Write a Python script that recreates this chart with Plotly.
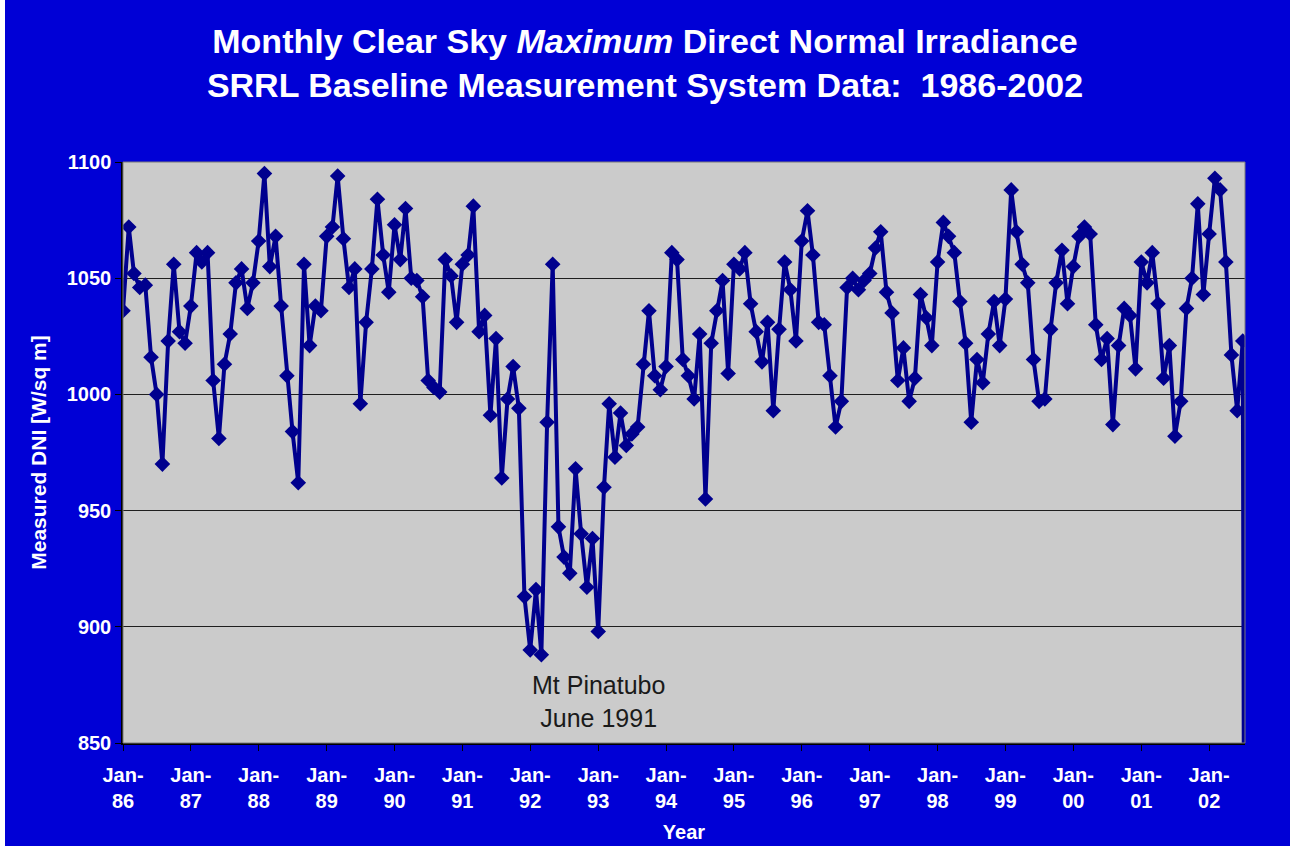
import pandas as pd
import plotly.graph_objects as go

# Monthly clear-sky maximum DNI (W/sq m), Jan 1986 .. Aug 2002 (last month recorded as 0)
dni_1986 = [1036, 1072, 1052, 1046, 1047, 1016, 1000, 970, 1023, 1056, 1027, 1022]
dni_1987 = [1038, 1061, 1057, 1061, 1006, 981, 1013, 1026, 1048, 1054, 1037, 1048]
dni_1988 = [1066, 1095, 1055, 1068, 1038, 1008, 984, 962, 1056, 1021, 1038, 1036]
dni_1989 = [1068, 1072, 1094, 1067, 1046, 1054, 996, 1031, 1054, 1084, 1060, 1044]
dni_1990 = [1073, 1058, 1080, 1050, 1049, 1042, 1006, 1003, 1001, 1058, 1051, 1031]
dni_1991 = [1056, 1060, 1081, 1027, 1034, 991, 1024, 964, 998, 1012, 994, 913]
dni_1992 = [890, 916, 888, 988, 1056, 943, 930, 923, 968, 940, 917, 938]
dni_1993 = [898, 960, 996, 973, 992, 978, 983, 986, 1013, 1036, 1008, 1002]
dni_1994 = [1012, 1061, 1058, 1015, 1008, 998, 1026, 955, 1022, 1036, 1049, 1009]
dni_1995 = [1056, 1054, 1061, 1039, 1027, 1014, 1031, 993, 1028, 1057, 1045, 1023]
dni_1996 = [1066, 1079, 1060, 1031, 1030, 1008, 986, 997, 1046, 1050, 1045, 1049]
dni_1997 = [1052, 1063, 1070, 1044, 1035, 1006, 1020, 997, 1007, 1043, 1033, 1021]
dni_1998 = [1057, 1074, 1068, 1061, 1040, 1022, 988, 1015, 1005, 1026, 1040, 1021]
dni_1999 = [1041, 1088, 1070, 1056, 1048, 1015, 997, 998, 1028, 1048, 1062, 1039]
dni_2000 = [1055, 1068, 1072, 1069, 1030, 1015, 1024, 987, 1021, 1037, 1034, 1011]
dni_2001 = [1057, 1048, 1061, 1039, 1007, 1021, 982, 997, 1037, 1050, 1082, 1043]
dni_2002 = [1069, 1093, 1088, 1057, 1017, 993, 1023, 0]

values = (dni_1986 + dni_1987 + dni_1988 + dni_1989 + dni_1990 + dni_1991 + dni_1992
          + dni_1993 + dni_1994 + dni_1995 + dni_1996 + dni_1997 + dni_1998 + dni_1999
          + dni_2000 + dni_2001 + dni_2002)
months = pd.date_range("1986-01-01", periods=len(values), freq="MS")

tick_dates = [f"{y}-01-01" for y in range(1986, 2003)]
tick_labels = ["Jan-<br>" + str(y)[2:] for y in range(1986, 2003)]
y_ticks = [850, 900, 950, 1000, 1050, 1100]

BLUE = "#0000D6"
NAVY = "#00008E"
FONT = "Liberation Sans, Arial, sans-serif"

fig = go.Figure()
fig.add_trace(go.Scatter(
    x=months, y=values, mode="lines+markers",
    line=dict(color=NAVY, width=4),
    marker=dict(symbol="diamond", size=12, color=NAVY),
    cliponaxis=True, showlegend=False,
))

fig.add_annotation(
    x="1993-01-01", y=868, xref="x", yref="y",
    text="Mt Pinatubo<br>June 1991", showarrow=False,
    font=dict(family=FONT, size=25, color="#1a1a1a"),
)

# thin white strip at the far left edge
fig.add_shape(type="rect", xref="paper", yref="paper",
              x0=-123 / 1122, x1=-118 / 1122, y0=-0.2, y1=1.3,
              fillcolor="white", line=dict(width=0), layer="above")
# plot-area frame (grey top/right)
fig.add_shape(type="rect", xref="paper", yref="paper", x0=0, x1=1, y0=0, y1=1,
              line=dict(color="#7a7a7a", width=1), layer="above")

fig.update_layout(
    width=1290, height=846,
    paper_bgcolor=BLUE, plot_bgcolor="#CBCBCB",
    margin=dict(l=123, r=45, t=162, b=103),
    title=dict(
        text="<b>Monthly Clear Sky <i>Maximum</i> Direct Normal Irradiance<br>"
             "SRRL Baseline Measurement System Data:  1986-2002</b>",
        x=0.5, xanchor="center", xref="container",
        y=1 - 53 / 846, yref="container", yanchor="middle",
        font=dict(family=FONT, size=34, color="white"),
    ),
    font=dict(family=FONT, color="white"),
)

fig.update_xaxes(
    type="date", range=["1986-01-01", "2002-07-13"], automargin=False,
    tickmode="array", tickvals=tick_dates, ticktext=tick_labels,
    tickfont=dict(family=FONT, size=20, color="white", weight="bold"),
    ticks="outside", ticklen=6, tickcolor="black", tickwidth=1,
    ticklabelstandoff=7,
    showline=True, linecolor="black", linewidth=1.5,
    showgrid=False, zeroline=False,
    title=dict(text="<b>Year</b>", font=dict(family=FONT, size=20, color="white"), standoff=14),
)
fig.update_yaxes(
    range=[850, 1100], tickmode="array", tickvals=y_ticks, automargin=False,
    tickfont=dict(family=FONT, size=20, color="white", weight="bold"),
    ticks="outside", ticklen=6, tickcolor="black", tickwidth=1,
    showline=True, linecolor="black", linewidth=1.5,
    showgrid=True, gridcolor="#1e1e1e", gridwidth=1, zeroline=False,
    title=dict(text="<b>Measured DNI [W/sq m]</b>", font=dict(family=FONT, size=21, color="white"), standoff=14),
)

fig.write_html("out.html", config={"displayModeBar": False},
               post_script="document.body.style.margin='0';")
